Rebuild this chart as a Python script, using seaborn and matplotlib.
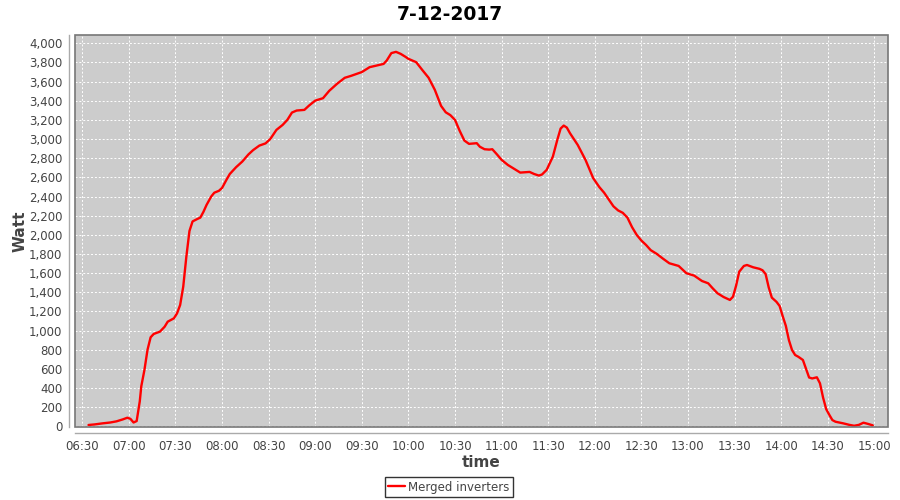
import matplotlib
matplotlib.use("Agg")
import matplotlib.pyplot as plt
import matplotlib.dates as mdates
from matplotlib.patches import Rectangle
from matplotlib.ticker import FuncFormatter, MultipleLocator
import pandas as pd
import seaborn as sns

day = "2017-12-07"
title = "7-12-2017"
series_name = "Merged inverters"

times = [
    "06:34", "06:38", "06:43", "06:48", "06:52", "06:56", "06:59", "07:01", "07:03", "07:05",
    "07:07", "07:08", "07:10", "07:12", "07:14", "07:16", "07:20", "07:23", "07:25", "07:29",
    "07:31", "07:33", "07:35", "07:37", "07:39", "07:41", "07:44", "07:46", "07:48", "07:50",
    "07:53", "07:55", "07:58", "08:00", "08:03", "08:05", "08:09", "08:13", "08:17", "08:20",
    "08:24", "08:28", "08:31", "08:35", "08:39", "08:42", "08:45", "08:48", "08:53", "08:56",
    "09:00", "09:05", "09:09", "09:14", "09:19", "09:23", "09:28", "09:30", "09:35", "09:40",
    "09:44", "09:46", "09:49", "09:52", "09:55", "09:58", "10:00", "10:05", "10:09", "10:13",
    "10:17", "10:21", "10:24", "10:27", "10:30", "10:33", "10:36", "10:39", "10:44", "10:46",
    "10:49", "10:52", "10:54", "10:57", "11:00", "11:04", "11:08", "11:12", "11:18", "11:21",
    "11:24", "11:26", "11:29", "11:33", "11:36", "11:38", "11:40", "11:42", "11:44", "11:49",
    "11:54", "11:59", "12:03", "12:06", "12:12", "12:15", "12:18", "12:21", "12:24", "12:27",
    "12:30", "12:33", "12:36", "12:40", "12:44", "12:48", "12:54", "12:59", "13:04", "13:09",
    "13:13", "13:16", "13:19", "13:23", "13:27", "13:29", "13:31", "13:33", "13:36", "13:38",
    "13:42", "13:46", "13:48", "13:50", "13:52", "13:54", "13:57", "13:59", "14:01", "14:03",
    "14:05", "14:07", "14:09", "14:11", "14:14", "14:16", "14:18", "14:20", "14:23", "14:25",
    "14:27", "14:29", "14:31", "14:33", "14:35", "14:40", "14:44", "14:47", "14:50", "14:53",
    "14:56", "14:59",
]
watt = [
    14, 20, 31, 40, 52, 72, 90, 78, 40, 55,
    260, 420, 588, 800, 930, 965, 989, 1040, 1093, 1128,
    1180, 1267, 1459, 1772, 2040, 2140, 2165, 2180, 2240, 2312,
    2400, 2440, 2460, 2490, 2580, 2636, 2706, 2765, 2840, 2885,
    2932, 2955, 3000, 3096, 3148, 3200, 3277, 3298, 3305, 3350,
    3402, 3427, 3504, 3577, 3640, 3660, 3689, 3700, 3751, 3770,
    3785, 3820, 3898, 3911, 3890, 3860, 3838, 3803, 3720, 3640,
    3514, 3347, 3280, 3250, 3200, 3086, 2985, 2950, 2957, 2920,
    2894, 2890, 2894, 2840, 2783, 2730, 2690, 2650, 2657, 2635,
    2619, 2630, 2678, 2817, 3000, 3110, 3141, 3120, 3062, 2939,
    2783, 2591, 2497, 2440, 2298, 2255, 2230, 2180, 2080, 1999,
    1940, 1894, 1840, 1800, 1750, 1703, 1675, 1599, 1574, 1518,
    1494, 1440, 1390, 1350, 1320, 1354, 1470, 1615, 1675, 1685,
    1661, 1645, 1630, 1590, 1450, 1344, 1300, 1257, 1150, 1050,
    900, 797, 745, 727, 693, 600, 510, 500, 512, 449,
    300, 180, 120, 65, 48, 31, 15, 6, 15, 38,
    25, 10,
]

df = pd.DataFrame({"time": pd.to_datetime([f"{day} {t}" for t in times]),
                   "Watt": watt,
                   "series": series_name})

sns.set_style("white")
plt.rcParams['font.family'] = ['DejaVu Sans']

fig = plt.figure(figsize=(9, 5), dpi=100)
ax = fig.add_axes([75 / 900, 1 - 427 / 500, 813 / 900, 392 / 500])
ax.set_facecolor("#cccccc")

sns.lineplot(data=df, x="time", y="Watt", hue="series", palette=["#ff0000"],
             linewidth=1.7, ax=ax, legend=False, estimator=None)

ax.set_xlim(pd.Timestamp(f"{day} 06:25:18"), pd.Timestamp(f"{day} 15:08:48"))
ax.set_ylim(-7, 4087)

ax.xaxis.set_major_locator(mdates.MinuteLocator(byminute=[0, 30]))
ax.xaxis.set_major_formatter(mdates.DateFormatter("%H:%M"))
ax.yaxis.set_major_locator(MultipleLocator(200))
ax.yaxis.set_major_formatter(FuncFormatter(lambda v, p: f"{int(v):,}"))

ax.grid(True, color="white", linestyle=(0, (2, 2)), linewidth=0.7)
ax.set_axisbelow(True)

# plot outline plus axis lines slightly offset
for side in ["top", "right"]:
    ax.spines[side].set_visible(False)
for side in ["left", "bottom"]:
    ax.spines[side].set_position(("outward", 4))
    ax.spines[side].set_color("#aaaaaa")
    ax.spines[side].set_linewidth(1)
ax.add_patch(Rectangle((0, 0), 1, 1, transform=ax.transAxes, fill=False,
                       edgecolor="#777777", linewidth=1.2, clip_on=False, zorder=5))

ax.tick_params(axis="both", colors="#aaaaaa", labelcolor="#444444", labelsize=8.5,
               length=3, width=1, pad=2, direction="out")

ax.set_xlabel("time", fontsize=11, fontweight="bold", color="#444444", labelpad=2)
ax.set_ylabel("Watt", fontsize=11, fontweight="bold", color="#444444", labelpad=1)

fig.text(0.5, 1 - 14 / 500, title, ha="center", va="center",
         fontsize=13.5, fontweight="bold", color="black")

handle = plt.Line2D([], [], color="#ff0000", linewidth=1.7)
leg = fig.legend([handle], [series_name], loc="center",
                 bbox_to_anchor=(449 / 900, 1 - 487 / 500), fontsize=8.5,
                 frameon=True, fancybox=False, handlelength=1.4,
                 handletextpad=0.3, borderpad=0.3, borderaxespad=0)
leg.get_frame().set_edgecolor("black")
leg.get_frame().set_linewidth(1)
for t in leg.get_texts():
    t.set_color("#444444")

fig.savefig("out.png", dpi=100)
